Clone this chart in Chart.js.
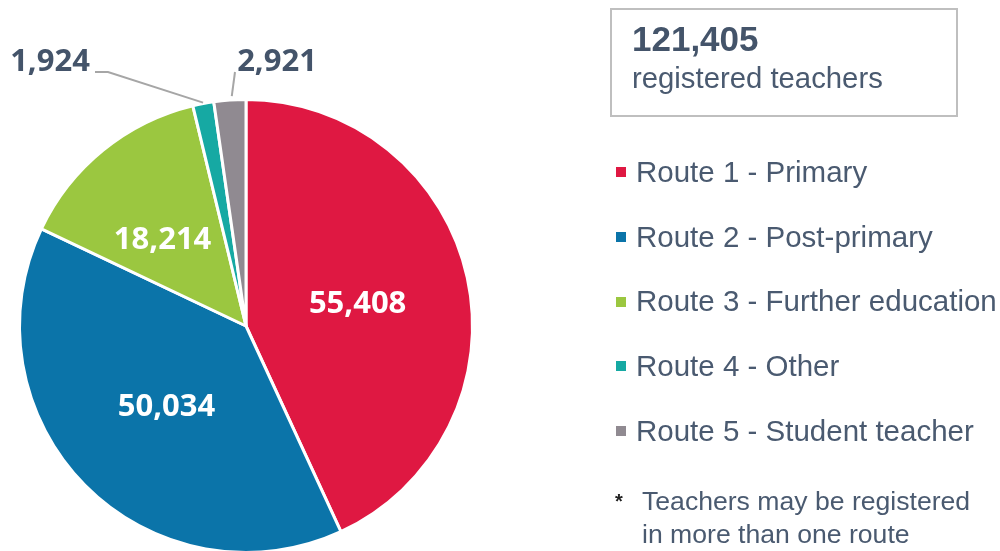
<!DOCTYPE html>
<html>
<head>
<meta charset="utf-8">
<script src="https://cdn.jsdelivr.net/npm/chart.js@4/dist/chart.umd.min.js"></script>
<style>
  html, body { margin:0; padding:0; width:1000px; height:551px; overflow:hidden; background:#fff; }
  #wrap { position:absolute; left:0; top:0; width:1000px; height:560px; }
  .box { position:absolute; left:610px; top:8px; width:348px; height:109px; border:2px solid #BFBFBF; box-sizing:border-box; }
  .total { position:absolute; left:20px; top:9px; font:bold 35px "Liberation Sans", Arial, sans-serif; color:#44546A; }
  .sub { position:absolute; left:20px; top:51px; font:29.3px "Liberation Sans", Arial, sans-serif; color:#4A5A70; white-space:nowrap; }
  .leg { position:absolute; left:616px; font:29.5px "Liberation Sans", Arial, sans-serif; color:#4A5A70; white-space:nowrap; }
  .leg i { display:inline-block; width:10px; height:10px; margin-right:10px; vertical-align:middle; position:relative; top:-2px; }
  .note { position:absolute; left:642px; top:485px; font:26.6px/33px "Liberation Sans", Arial, sans-serif; color:#4A5A70; }
  .star { position:absolute; left:615px; top:490px; font:bold 20px "Liberation Sans", Arial, sans-serif; color:#222; }
</style>
</head>
<body>
<div id="wrap"><canvas id="c"></canvas></div>
<div class="box"><div class="total" id="total"></div><div class="sub">registered teachers</div></div>
<div id="legend"></div>
<div class="star">*</div>
<div class="note">Teachers may be registered<br>in more than one route</div>
<script>
const categories = ["Route 1 - Primary", "Route 2 - Post-primary", "Route 3 - Further education", "Route 4 - Other", "Route 5 - Student teacher"];
const values = [55408, 50034, 18214, 1924, 2921];
const colors = ["#DF1842", "#0B74A9", "#9BC740", "#16A9A3", "#908A91"];
const totalTeachers = 121405;

document.getElementById('total').textContent = totalTeachers.toLocaleString('en-US');

const legend = document.getElementById('legend');
categories.forEach((c, i) => {
  const d = document.createElement('div');
  d.className = 'leg';
  d.style.top = (155 + i * 64.7) + 'px';
  d.innerHTML = '<i style="background:' + colors[i] + '"></i>' + c;
  legend.appendChild(d);
});

const fmt = v => v.toLocaleString('en-US');

const labelPlugin = {
  id: 'labels',
  afterDatasetsDraw(chart) {
    const ctx = chart.ctx;
    const meta = chart.getDatasetMeta(0);
    ctx.save();
    ctx.textAlign = 'center';
    ctx.textBaseline = 'middle';
    ctx.font = 'bold 31px "Open Sans", sans-serif';
    meta.data.forEach((arc, i) => {
      const v = values[i];
      const p = arc.tooltipPosition();
      const cx = arc.x, cy = arc.y;
      if (i < 3) {
        let x = p.x, y = p.y;
        if (i === 2) { x -= 13; }
        ctx.fillStyle = '#FFFFFF';
        ctx.fillText(fmt(v), x + 1, y + 2);
      } else {
        const mid = (arc.startAngle + arc.endAngle) / 2;
        const ex = cx + Math.cos(mid) * (arc.outerRadius + 1);
        const ey = cy + Math.sin(mid) * (arc.outerRadius + 1);
        ctx.strokeStyle = '#A6A6A6';
        ctx.lineWidth = 2;
        ctx.beginPath();
        let lx, ly;
        if (i === 3) {
          lx = cx - 196; ly = cy - 264;
          ctx.moveTo(cx - 151, cy - 254);
          ctx.lineTo(cx - 138, cy - 254);
          ctx.lineTo(ex, ey);
        } else {
          lx = cx + 31; ly = cy - 264;
          ctx.moveTo(cx - 11, cy - 254);
          ctx.lineTo(ex + 2, ey - 3);
        }
        ctx.stroke();
        ctx.fillStyle = '#44546A';
        ctx.fillText(fmt(v), lx, ly);
      }
    });
    ctx.restore();
  }
};

new Chart(document.getElementById('c'), {
  type: 'pie',
  data: {
    labels: categories,
    datasets: [{
      data: values,
      backgroundColor: colors,
      borderColor: '#FFFFFF',
      borderWidth: 3
    }]
  },
  options: {
    responsive: true,
    maintainAspectRatio: false,
    animation: false,
    layout: { padding: { left: 18, right: 526, top: 98, bottom: 6 } },
    plugins: { legend: { display: false }, tooltip: { enabled: false } }
  },
  plugins: [labelPlugin]
});
</script>
</body>
</html>
